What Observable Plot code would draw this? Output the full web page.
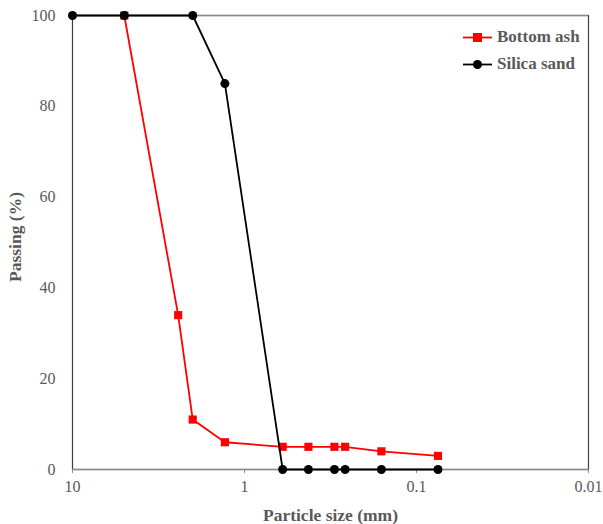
<!DOCTYPE html>
<html><head><meta charset="utf-8">
<script src="https://cdn.jsdelivr.net/npm/d3@7"></script>
<script src="https://cdn.jsdelivr.net/npm/@observablehq/plot@0.6"></script>
<style>
body{margin:0;background:#fff;}
#wrap{position:relative;width:603px;height:524px;font-family:"Liberation Serif","Times New Roman",serif;}
.leg{position:absolute;left:463px;font-weight:bold;font-size:17px;color:#595959;display:flex;align-items:center;font-family:"Liberation Serif",serif;}
.leg svg{margin-right:4px;}
</style>
</head><body>
<div id="wrap"></div>
<script>
const ashSize = [5, 2.43, 2, 1.3, 0.6, 0.425, 0.3, 0.26, 0.16, 0.075];
const ashPass = [100, 34, 11, 6, 5, 5, 5, 5, 4, 3];
const sandSize = [10, 5, 2, 1.3, 0.6, 0.425, 0.3, 0.26, 0.16, 0.075];
const sandPass = [100, 100, 100, 85, 0, 0, 0, 0, 0, 0];
const xTicks = [10, 1, 0.1, 0.01];
const yTicks = [0, 20, 40, 60, 80, 100];
const seriesNames = ["Bottom ash", "Silica sand"];

const ash = ashSize.map((s, i) => ({size: s, pass: ashPass[i]}));
const sand = sandSize.map((s, i) => ({size: s, pass: sandPass[i]}));

const chart = Plot.plot({
  width: 603, height: 524,
  marginLeft: 72, marginRight: 15, marginTop: 15, marginBottom: 55,
  style: {fontFamily: '"Liberation Serif","Times New Roman",serif', fontSize: "16px", color: "#595959", background: "#fff"},
  x: {type: "log", domain: [10, 0.01]},
  y: {domain: [0, 100]},
  marks: [
    Plot.frame({stroke: "#404040", strokeWidth: 1.2}),
    Plot.ruleY([0, 100], {stroke: "#8c8c8c", strokeWidth: 1.5}),
    Plot.axisX({ticks: xTicks, tickFormat: d => String(d), tickSize: 4, tickPadding: 7, stroke: "#8c8c8c", fill: "#595959",
      label: "Particle size (mm)", labelAnchor: "center", labelArrow: "none", labelOffset: 51, fontSize: 16}),
    Plot.axisY({ticks: yTicks, tickSize: 0, tickPadding: 17, fill: "#595959",
      label: null, fontSize: 16}),
    Plot.line(ash, {x: "size", y: "pass", stroke: "#ff0000", strokeWidth: 1.8}),
    Plot.dot(ash, {x: "size", y: "pass", symbol: "square", fill: "#ff0000", r: 4.6}),
    Plot.line(sand, {x: "size", y: "pass", stroke: "#000", strokeWidth: 1.8}),
    Plot.dot(sand, {x: "size", y: "pass", fill: "#000", r: 4.5})
  ]
});
chart.querySelectorAll('[aria-label="x-axis label"] text').forEach(t => {t.setAttribute("font-weight", "bold"); t.setAttribute("font-size", "17.5px");});
document.getElementById("wrap").appendChild(chart);

const yl = document.createElementNS("http://www.w3.org/2000/svg", "text");
yl.textContent = "Passing (%)";
yl.setAttribute("transform", "translate(21,237) rotate(-90)");
yl.setAttribute("text-anchor", "middle");
yl.setAttribute("font-weight", "bold");
yl.setAttribute("font-size", "17.5px");
yl.setAttribute("fill", "#595959");
yl.setAttribute("font-family", '"Liberation Serif","Times New Roman",serif');
chart.appendChild(yl);

const legColors = ["#ff0000", "#000"];
seriesNames.forEach((n, i) => {
  const d = document.createElement("div");
  d.className = "leg";
  d.style.top = (27 + i * 27) + "px";
  const mk = i === 0 ? '<rect x="10" y="5" width="9" height="9" fill="#ff0000"/>' : '<circle cx="14.5" cy="9.5" r="4.5" fill="#000"/>';
  d.innerHTML = `<svg width="30" height="19"><line x1="0" x2="29" y1="9.5" y2="9.5" stroke="${legColors[i]}" stroke-width="1.8"/>${mk}</svg>${n}`;
  document.getElementById("wrap").appendChild(d);
});
</script>
</body></html>
